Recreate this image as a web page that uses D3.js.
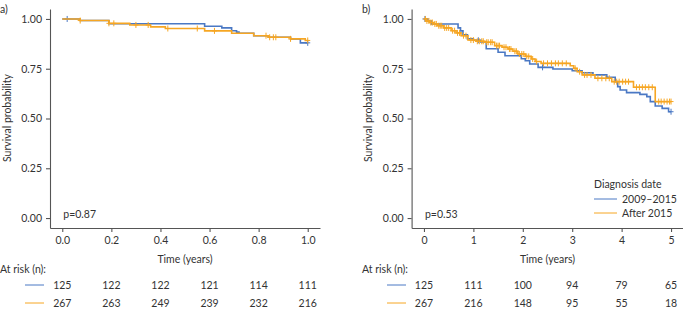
<!DOCTYPE html>
<html><head><meta charset="utf-8">
<script src="https://cdn.jsdelivr.net/npm/d3@7/dist/d3.min.js"></script>
<style>
html,body{margin:0;padding:0;background:#fff;}
svg{display:block;font-family:Lato,"Noto Sans",sans-serif;}
</style></head><body>
<svg id="chart" width="683" height="310"></svg>
<script>
// ---------- DATA ----------
const groups = ["2009\u20132015", "After 2015"];
const legendTitle = "Diagnosis date";

// Panel a (0-1 year)
const aBlueTimes = [0, 0.073, 0.19, 0.58, 0.65, 0.69, 0.71, 0.72, 0.78, 0.84, 0.93, 0.97];
const aBlueSurv  = [1, 0.992, 0.976, 0.963, 0.955, 0.941, 0.934, 0.928, 0.916, 0.908, 0.900, 0.880];
const aBlueCens  = [0.02, 1.0];
const aOrangeTimes = [0, 0.073, 0.19, 0.275, 0.36, 0.42, 0.58, 0.69, 0.78, 0.84, 0.93, 0.99];
const aOrangeSurv  = [1, 0.992, 0.978, 0.970, 0.960, 0.952, 0.940, 0.928, 0.916, 0.908, 0.900, 0.892];
const aOrangeCens  = [0.073, 0.19, 0.21, 0.3, 0.35, 0.43, 0.55, 0.62, 0.83, 0.845, 0.86, 0.87, 0.93, 1.0];
const aEnd = 1.0;
const aTicks = [0, 0.2, 0.4, 0.6, 0.8, 1.0];
const aTickLabels = ["0.0", "0.2", "0.4", "0.6", "0.8", "1.0"];
const aRiskBlue = [125, 122, 122, 121, 114, 111];
const aRiskOrange = [267, 263, 249, 239, 232, 216];
const aPval = "p=0.87";

// Panel b (0-5 years)
const bBlueTimes = [0, 0.08, 0.15, 0.69, 0.74, 0.79, 0.88, 1.0, 1.15, 1.26, 1.5, 1.64, 1.97, 2.05, 2.14, 2.31, 2.61, 3.0, 3.2, 3.42, 3.7, 3.87, 3.92, 3.97, 4.1, 4.37, 4.51, 4.58, 4.68, 4.82, 4.95];
const bBlueSurv  = [1, 0.99, 0.975, 0.955, 0.94, 0.92, 0.90, 0.893, 0.885, 0.85, 0.833, 0.815, 0.80, 0.79, 0.774, 0.757, 0.749, 0.740, 0.730, 0.719, 0.707, 0.685, 0.66, 0.643, 0.630, 0.621, 0.61, 0.585, 0.563, 0.551, 0.534];
const bBlueCens  = [0.02, 1.1, 2.4, 5.0];
const bOrangeTimes = [0, 0.05, 0.12, 0.2, 0.28, 0.4, 0.55, 0.65, 0.75, 0.89, 1.05, 1.23, 1.43, 1.58, 1.7, 1.8, 1.9, 2.05, 2.17, 2.25, 2.37, 2.96, 3.03, 3.1, 3.2, 3.46, 3.8, 4.24, 4.68];
const bOrangeSurv  = [1, 0.99, 0.982, 0.975, 0.966, 0.955, 0.941, 0.93, 0.916, 0.894, 0.888, 0.883, 0.866, 0.858, 0.849, 0.838, 0.824, 0.812, 0.799, 0.786, 0.777, 0.765, 0.752, 0.735, 0.719, 0.702, 0.685, 0.657, 0.585];
const bOrangeCens  = [0.03, 0.06, 0.1, 0.14, 0.17, 0.22, 0.25, 0.3, 0.33, 0.36, 0.42, 0.46, 0.5, 0.58, 0.62, 0.68, 0.72, 0.8, 0.85, 0.95, 1.0, 1.08, 1.12, 1.17, 1.2, 1.27, 1.3, 1.35, 1.38, 1.47, 1.5, 1.53, 1.62, 1.66, 1.73, 1.76, 1.84, 1.87, 1.93, 1.98, 2.02, 2.08, 2.12, 2.2, 2.28, 2.42, 2.5, 2.58, 2.66, 2.72, 2.8, 2.88, 3.06, 3.15, 3.25, 3.3, 3.38, 3.52, 3.6, 3.68, 3.75, 3.85, 3.9, 3.95, 4.02, 4.08, 4.14, 4.3, 4.36, 4.42, 4.48, 4.55, 4.62, 4.75, 4.8, 4.86, 4.92, 4.97, 5.0];
const bEnd = 5.0;
const bTicks = [0, 1, 2, 3, 4, 5];
const bTickLabels = ["0", "1", "2", "3", "4", "5"];
const bRiskBlue = [125, 111, 100, 94, 79, 65];
const bRiskOrange = [267, 216, 148, 95, 55, 18];
const bPval = "p=0.53";

const yTicks = [0, 0.25, 0.5, 0.75, 1.0];
const yTickLabels = ["0.00", "0.25", "0.50", "0.75", "1.00"];

// ---------- STYLE ----------
const BLUE = "#4a78c4";
const ORANGE = "#f6a623";
const AXIS = "#555555";
const TEXT = "#333333";
const FS = 10.5;

const svg = d3.select("#chart");

function survAt(times, surv, t) {
  let s = surv[0];
  for (let i = 0; i < times.length; i++) { if (times[i] <= t) s = surv[i]; }
  return s;
}

function drawPanel(cfg) {
  const g = svg.append("g");
  const x = d3.scaleLinear().domain(cfg.xDomain).range([cfg.left, cfg.right]);
  const y = d3.scaleLinear().domain([-0.05, 1.05]).range([228, 9]);

  // Y axis
  const yAx = g.append("g").attr("transform", `translate(${cfg.left},0)`)
    .call(d3.axisLeft(y).tickValues(yTicks).tickFormat((d, i) => yTickLabels[i]).tickSize(4).tickPadding(4).tickSizeOuter(0));
  // X axis
  const xAx = g.append("g").attr("transform", `translate(0,228)`)
    .call(d3.axisBottom(x).tickValues(cfg.ticks).tickFormat((d, i) => cfg.tickLabels[i]).tickSize(4).tickPadding(5).tickSizeOuter(0));
  [yAx, xAx].forEach(ax => {
    ax.select(".domain").attr("stroke", AXIS).attr("stroke-width", 1.1);
    ax.selectAll(".tick line").attr("stroke", AXIS).attr("stroke-width", 1.1);
    ax.selectAll(".tick text").attr("fill", TEXT).style("font-size", FS + "px").style("font-family", "Lato, 'Noto Sans', sans-serif");
  });

  // Curves
  const line = d3.line().x(d => x(d[0])).y(d => y(d[1])).curve(d3.curveStepAfter);
  cfg.series.forEach(s => {
    const pts = s.times.map((t, i) => [t, s.surv[i]]);
    pts.push([cfg.end, s.surv[s.surv.length - 1]]);
    g.append("path").datum(pts).attr("d", line).attr("fill", "none")
      .attr("stroke", s.color).attr("stroke-width", 1.6);
    g.append("g").selectAll("path").data(s.cens).join("path")
      .attr("d", d => {
        const cx = x(d), cy = y(survAt(s.times, s.surv, d));
        return `M${cx},${cy - 3}V${cy + 3}M${cx - 2.5},${cy}H${cx + 2.5}`;
      })
      .attr("stroke", s.color).attr("stroke-width", 1).attr("fill", "none");
  });

  // Labels
  g.append("text").attr("x", cfg.panelX).attr("y", 13).text(cfg.panelLabel)
    .attr("fill", TEXT).style("font-size", FS + "px");
  g.append("text").attr("transform", `translate(${cfg.yLabelX},118) rotate(-90)`)
    .attr("text-anchor", "middle").text("Survival probability")
    .attr("fill", TEXT).style("font-size", FS + "px");
  g.append("text").attr("x", (cfg.left + cfg.right) / 2 + cfg.xLabelShift).attr("y", 263)
    .attr("text-anchor", "middle").text("Time (years)")
    .attr("fill", TEXT).style("font-size", FS + "px");
  g.append("text").attr("x", x(0) + 1).attr("y", 218).text(cfg.pval)
    .attr("fill", TEXT).style("font-size", FS + "px");

  // Risk table
  g.append("text").attr("x", cfg.panelX).attr("y", 273).text("At risk (n):")
    .attr("fill", TEXT).style("font-size", FS + "px");
  const rows = [{ v: cfg.riskBlue, c: BLUE, y: 285 }, { v: cfg.riskOrange, c: ORANGE, y: 303 }];
  rows.forEach(r => {
    g.append("line").attr("x1", cfg.legX1).attr("x2", cfg.legX1 + 19)
      .attr("y1", r.y).attr("y2", r.y).attr("stroke", r.c).attr("stroke-width", 1);
    g.append("g").selectAll("text").data(r.v).join("text")
      .attr("x", (d, i) => x(cfg.ticks[i])).attr("y", r.y + 3.8)
      .attr("text-anchor", "middle").text(d => d)
      .attr("fill", TEXT).style("font-size", FS + "px");
  });
  return { x, y, g };
}

drawPanel({
  left: 50, right: 320, xDomain: [-0.05, 1.05], end: aEnd,
  ticks: aTicks, tickLabels: aTickLabels, panelLabel: "a)", panelX: 0, yLabelX: 11,
  xLabelShift: 0, pval: aPval, riskBlue: aRiskBlue, riskOrange: aRiskOrange, legX1: 25,
  series: [
    { times: aBlueTimes, surv: aBlueSurv, cens: aBlueCens, color: BLUE },
    { times: aOrangeTimes, surv: aOrangeSurv, cens: aOrangeCens, color: ORANGE }
  ]
});

const pb = drawPanel({
  left: 411.6, right: 683.4, xDomain: [-0.25, 5.25], end: bEnd,
  ticks: bTicks, tickLabels: bTickLabels, panelLabel: "b)", panelX: 362, yLabelX: 372,
  xLabelShift: 0, pval: bPval, riskBlue: bRiskBlue, riskOrange: bRiskOrange, legX1: 387,
  series: [
    { times: bBlueTimes, surv: bBlueSurv, cens: bBlueCens, color: BLUE },
    { times: bOrangeTimes, surv: bOrangeSurv, cens: bOrangeCens, color: ORANGE }
  ]
});

// Legend (panel b)
const leg = pb.g.append("g");
leg.append("text").attr("x", 594).attr("y", 188).text(legendTitle)
  .attr("fill", TEXT).style("font-size", FS + "px");
[BLUE, ORANGE].forEach((c, i) => {
  const yy = 199 + i * 14;
  leg.append("line").attr("x1", 594).attr("x2", 617).attr("y1", yy).attr("y2", yy)
    .attr("stroke", c).attr("stroke-width", 1);
  leg.append("text").attr("x", 622).attr("y", yy + 3.8).text(groups[i])
    .attr("fill", TEXT).style("font-size", FS + "px");
});
</script>
</body></html>
